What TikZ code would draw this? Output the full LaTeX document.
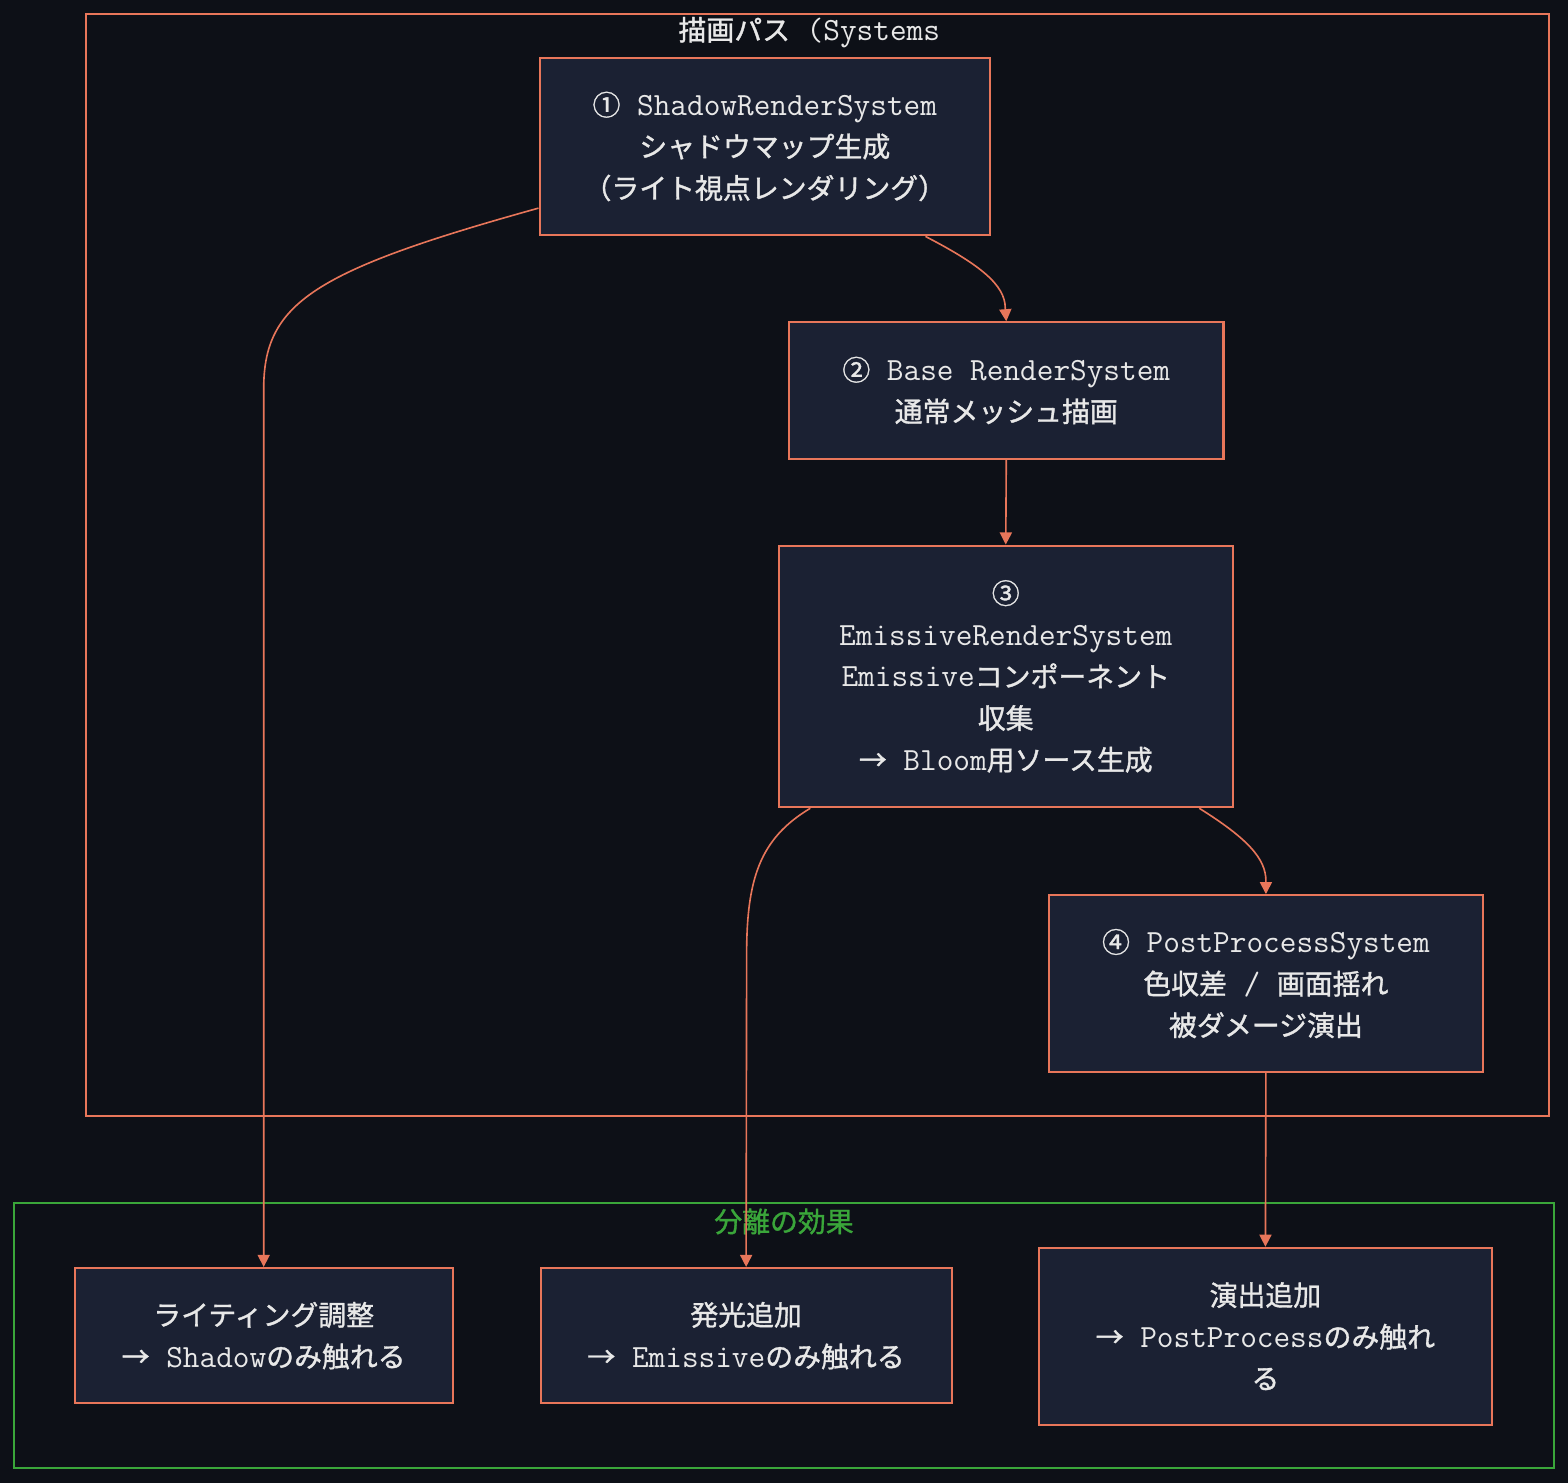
\documentclass[tikz,border=0pt]{standalone}
\usepackage{fontspec}
\setmainfont{Noto Sans CJK JP}[FakeBold=1.2]
\setmonofont{Latin Modern Mono}[Scale=1.16]
\usetikzlibrary{arrows.meta,calc}
\definecolor{bg}{HTML}{0D1017}
\definecolor{nodefill}{HTML}{1B2133}
\definecolor{edge}{HTML}{E8765A}
\definecolor{grp}{HTML}{3AA63A}
\definecolor{txt}{HTML}{E8E8E8}
\begin{document}
\begin{tikzpicture}[x=0.5pt,y=-0.5pt,
  box/.style={draw=edge,line width=1pt,fill=nodefill,text=txt,align=center,inner sep=0pt,
    font=\fontsize{13.8pt}{20.6pt}\selectfont},
  cluster/.style={draw=edge,line width=1pt},
  gcluster/.style={draw=grp,line width=1pt},
  conn/.style={draw=edge,line width=0.8pt,-{Triangle[length=6pt,width=6pt]}},
  ttl/.style={font=\fontsize{13.8pt}{16pt}\selectfont,inner sep=0pt}]
\fill[bg] (0,0) rectangle (1552,1468);
\useasboundingbox (0,0) rectangle (1552,1468);
% clusters
\draw[cluster] (85,14) rectangle (1533,1105);
\node[ttl,text=txt] (t1) at (801,32) {描画パス\texttt{ (Systems}};
\draw[gcluster] (14,1191) rectangle (1538,1453);
\node[ttl,text=grp] (t2) at (776,1209) {分離の効果};
% nodes
\node[box,minimum width=223pt,minimum height=88pt] (n1) at (757,145)
  {①\texttt{ ShadowRenderSystem}\\シャドウマップ生成\\（ライト視点レンダリング）};
\node[box,minimum width=215pt,minimum height=67.5pt] (n2) at (996,386.5)
  {②\texttt{ Base RenderSystem}\\通常メッシュ描画};
\node[box,minimum width=224.5pt,minimum height=129.5pt] (n3) at (995.5,669.5)
  {③\\\texttt{EmissiveRenderSystem}\\\texttt{Emissive}コンポーネント\\収集\\→\texttt{ Bloom}用ソース生成};
\node[box,minimum width=215pt,minimum height=87.5pt] (n4) at (1253,973.5)
  {④\texttt{ PostProcessSystem}\\色収差\texttt{ / }画面揺れ\\被ダメージ演出};
\node[box,minimum width=187pt,minimum height=67pt] (b1) at (261,1322)
  {ライティング調整\\→\texttt{ Shadow}のみ触れる};
\node[box,minimum width=203.5pt,minimum height=67pt] (b2) at (738.5,1322)
  {発光追加\\→\texttt{ Emissive}のみ触れる};
\node[box,minimum width=224.5pt,minimum height=87.5pt] (b3) at (1252.5,1322.5)
  {演出追加\\→\texttt{ PostProcess}のみ触れ\\る};
% connectors
\coordinate (s1) at ($(n1.south west)+(0,-28)$);
\draw[conn] (s1) .. controls (310,268) and (261,300) .. (261,385) -- (b1.north);
\coordinate (s2) at ($(n1.south west)+(383,0)$);
\draw[conn] (s2) .. controls (970,262) and (995,282) .. (995,305) -- (n2.north);
\draw[conn] (n2.south) -- (n3.north);
\coordinate (s3) at ($(n3.south west)+(32,0)$);
\draw[conn] (s3) .. controls (752,830) and (739,870) .. (739,945) -- (b2.north);
\coordinate (s4) at ($(n3.south west)+(417,0)$);
\draw[conn] (s4) .. controls (1235,830) and (1253,850) .. (1253,872) -- (n4.north);
\draw[conn] (n4.south) -- (b3.north);
\end{tikzpicture}
\end{document}
